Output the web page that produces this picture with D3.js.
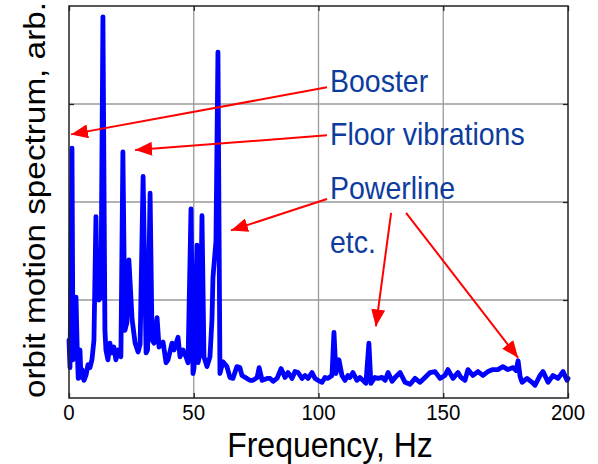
<!DOCTYPE html>
<html>
<head>
<meta charset="utf-8">
<script src="https://cdn.jsdelivr.net/npm/d3@7"></script>
<style>
  html, body { margin: 0; padding: 0; background: #fff; }
  svg { display: block; }
</style>
</head>
<body>
<svg id="chart" width="598" height="464"></svg>
<script>
// ---- data ----
const freqHz = [
  0.0, 0.4, 1.2, 1.6, 2.2, 2.8, 3.3, 3.7, 4.4, 4.8, 5.3, 6.0, 6.8, 7.6, 8.4, 9.2, 10.0,
  10.8, 11.3, 12.0, 12.8, 13.6, 14.4, 14.8, 15.6, 16.4, 17.2, 18.0, 18.8, 19.6, 20.8,
  21.6, 22.4, 23.2, 24.0, 25.3, 26.5, 27.7, 28.5, 29.7, 30.9, 31.5, 32.5, 33.3, 34.1,
  35.3, 36.1, 37.7, 38.9, 39.7, 41.3, 42.1, 43.7, 44.5, 45.7, 46.9, 47.7, 48.9, 49.7,
  50.1, 51.3, 51.7, 52.5, 53.3, 54.1, 55.3, 56.5, 57.3, 57.7, 58.9, 59.7, 60.5, 61.7,
  63.3, 64.5, 65.7, 67.3, 68.5, 69.3, 71.3, 72.5, 73.7, 75.4, 76.2, 77.4, 79.4, 80.6,
  81.8, 83.4, 85.0, 86.6, 87.8, 89.4, 90.6, 91.8, 93.4, 94.6, 95.8, 97.4, 98.6, 99.8,
  101.4, 102.6, 103.8, 105.4, 106.2, 107.0, 108.2, 109.4, 110.6, 111.8, 112.6, 113.8,
  115.4, 116.6, 117.8, 119.0, 120.2, 121.0, 122.6, 123.8, 125.5, 126.7, 127.9, 129.5,
  130.7, 132.7, 134.7, 136.7, 138.7, 140.7, 142.7, 144.7, 146.7, 148.7, 150.7, 151.9,
  153.9, 155.9, 157.1, 158.7, 159.9, 161.9, 163.9, 165.9, 167.9, 169.9, 171.9, 173.9,
  175.9, 178.0, 179.2, 180.0, 180.8, 181.6, 183.6, 185.6, 186.8, 188.8, 190.0, 192.0,
  194.0, 196.0, 198.0, 199.6, 200.0
];
const amplitude = [
  0.59, 0.31, 2.55, 0.39, 0.42, 1.03, 0.49, 0.20, 0.49, 0.21, 0.29, 0.18, 0.23, 0.34, 0.31, 0.39, 0.59,
  1.85, 1.03, 1.00, 1.03, 3.89, 0.69, 0.49, 0.39, 0.56, 0.46, 0.52, 0.39, 0.49, 0.42,
  2.51, 0.69, 0.77, 1.41, 0.80, 0.56, 0.47, 0.55, 2.26, 0.46, 0.49, 2.09, 0.59, 0.56,
  0.82, 0.52, 0.57, 0.36, 0.39, 0.56, 0.49, 0.62, 0.42, 0.49, 0.42, 0.36, 1.93, 0.25,
  0.30, 1.56, 0.36, 0.45, 1.86, 0.42, 0.32, 0.42, 0.80, 1.23, 1.60, 3.53, 0.25, 0.37,
  0.32, 0.21, 0.20, 0.32, 0.31, 0.23, 0.20, 0.18, 0.18, 0.21, 0.31, 0.18, 0.20, 0.20,
  0.17, 0.20, 0.30, 0.21, 0.26, 0.20, 0.27, 0.26, 0.20, 0.23, 0.20, 0.26, 0.20, 0.18,
  0.16, 0.21, 0.20, 0.23, 0.67, 0.25, 0.39, 0.23, 0.18, 0.23, 0.21, 0.26,
  0.18, 0.21, 0.18, 0.15, 0.56, 0.15, 0.21, 0.20, 0.21, 0.18, 0.26, 0.17,
  0.21, 0.26, 0.16, 0.14, 0.20, 0.16, 0.21, 0.26, 0.27, 0.20, 0.23, 0.29,
  0.20, 0.26, 0.21, 0.18, 0.29, 0.23, 0.27, 0.23, 0.27, 0.29, 0.29, 0.32,
  0.29, 0.31, 0.28, 0.38, 0.22, 0.16, 0.20, 0.16, 0.13, 0.23, 0.27, 0.16,
  0.23, 0.20, 0.27, 0.18, 0.20
];
const xTicks = [0, 50, 100, 150, 200];
const yGrid = [1, 2, 3];
const xLabel = "Frequency, Hz";
const yLabel = "orbit motion spectrum, arb.";

// annotations: label text and its anchor (freq, amplitude)
const noteText = ["Booster", "Floor vibrations", "Powerline", "etc."];
const noteFreq = [104.6, 104.6, 104.6, 104.6];
const noteAmp  = [3.12, 2.58, 2.03, 1.48];
// arrows: tail (freq, amp) -> tip (freq, amp)
const arrowTailFreq = [103.4, 103.4, 103.4, 129.1, 135.1];
const arrowTailAmp  = [3.17, 2.68, 2.03, 1.89, 1.89];
const arrowTipFreq  = [0.8, 26.5, 64.9, 123.0, 180.0];
const arrowTipAmp   = [2.69, 2.53, 1.71, 0.73, 0.41];

(function () {
  const svg = d3.select("#chart");
  const pL = 69, pR = 568, pT = 6, pB = 398;
  const x = d3.scaleLinear().domain([0, 200]).range([pL, pR]);
  const y = d3.scaleLinear().domain([0, 4]).range([pB, pT]);
  const stretch = 1.11;
  const font = "Arial, 'Liberation Sans', Helvetica, sans-serif";

  // grid
  const g = svg.append("g");
  g.selectAll("line.vg").data(xTicks.filter(t => t > 0 && t < 200)).join("line")
    .attr("class", "vg")
    .attr("x1", d => x(d)).attr("x2", d => x(d))
    .attr("y1", pT).attr("y2", pB)
    .attr("stroke", "#9a9a9a").attr("stroke-width", 1.3);
  g.selectAll("line.hg").data(yGrid).join("line")
    .attr("class", "hg")
    .attr("x1", pL).attr("x2", pR)
    .attr("y1", d => y(d)).attr("y2", d => y(d))
    .attr("stroke", "#9a9a9a").attr("stroke-width", 1.3);

  // inner ticks on all sides
  const tl = 5;
  const axes = [
    [d3.axisBottom(x).tickValues(xTicks), `translate(0,${pB})`],
    [d3.axisTop(x).tickValues(xTicks), `translate(0,${pT})`],
    [d3.axisLeft(y).tickValues(yGrid), `translate(${pL},0)`],
    [d3.axisRight(y).tickValues(yGrid), `translate(${pR},0)`]
  ];
  axes.forEach(([ax, tr]) => {
    ax.tickSize(-tl).tickFormat("");
    const a = svg.append("g").attr("transform", tr).call(ax);
    a.select(".domain").remove();
    a.selectAll("line").attr("stroke", "#222").attr("stroke-width", 1.3);
  });

  // spectrum line
  const pts = freqHz.map((f, i) => [f, amplitude[i]]);
  svg.append("path")
    .datum(pts)
    .attr("fill", "none")
    .attr("stroke", "#0000ff")
    .attr("stroke-width", 4.8)
    .attr("stroke-linejoin", "round")
    .attr("stroke-linecap", "round")
    .attr("d", d3.line().x(d => x(d[0])).y(d => y(d[1])));

  // frame
  svg.append("rect")
    .attr("x", pL).attr("y", pT)
    .attr("width", pR - pL).attr("height", pB - pT)
    .attr("fill", "none").attr("stroke", "#222").attr("stroke-width", 1.5);

  // tick labels
  svg.selectAll("text.xt").data(xTicks).join("text")
    .attr("class", "xt")
    .attr("transform", d => `translate(${x(d)},420) scale(1,${stretch})`)
    .attr("text-anchor", "middle")
    .attr("font-family", font).attr("font-size", 20.5).attr("fill", "#000")
    .text(d => d);

  // axis labels
  svg.append("text")
    .attr("transform", `translate(330,457) scale(1,${stretch})`)
    .attr("text-anchor", "middle")
    .attr("font-family", font).attr("font-size", 32).attr("fill", "#000")
    .text(xLabel);
  svg.append("text")
    .attr("transform", `translate(45,200) scale(1,${stretch}) rotate(-90)`)
    .attr("text-anchor", "middle")
    .attr("font-family", font).attr("font-size", 30).attr("fill", "#000")
    .text(yLabel);

  // arrows
  svg.append("defs").append("marker")
    .attr("id", "head").attr("viewBox", "0 0 17 14")
    .attr("refX", 17).attr("refY", 7)
    .attr("markerWidth", 17).attr("markerHeight", 14)
    .attr("markerUnits", "userSpaceOnUse")
    .attr("orient", "auto")
    .append("path").attr("d", "M0,0 L17,7 L0,14 Z").attr("fill", "#ff0000");
  svg.selectAll("line.arrow").data(arrowTipFreq.map((_, i) => i)).join("line")
    .attr("class", "arrow")
    .attr("x1", i => x(arrowTailFreq[i])).attr("y1", i => y(arrowTailAmp[i]))
    .attr("x2", i => x(arrowTipFreq[i])).attr("y2", i => y(arrowTipAmp[i]))
    .attr("stroke", "#ff0000").attr("stroke-width", 2)
    .attr("marker-end", "url(#head)");

  // annotation labels
  svg.selectAll("text.note").data(noteText).join("text")
    .attr("class", "note")
    .attr("transform", (d, i) => `translate(${x(noteFreq[i])},${y(noteAmp[i])}) scale(1,${stretch})`)
    .attr("font-family", font).attr("font-size", 28.5).attr("fill", "#0d3c9e")
    .text(d => d);
})();
</script>
</body>
</html>
